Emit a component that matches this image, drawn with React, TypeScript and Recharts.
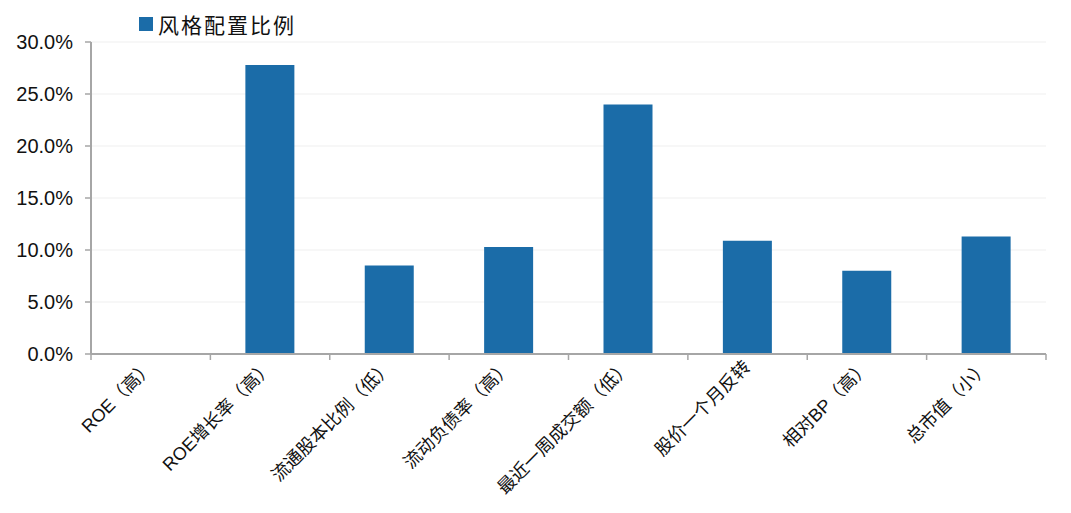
import React from 'react';
import { BarChart, Bar, XAxis, YAxis, CartesianGrid, Legend } from 'recharts';

const categories = [
  'ROE（高）',
  'ROE增长率（高）',
  '流通股本比例（低）',
  '流动负债率（高）',
  '最近一周成交额（低）',
  '股价一个月反转',
  '相对BP（高）',
  '总市值（小）',
];
const weights = [0, 0.278, 0.085, 0.103, 0.24, 0.109, 0.08, 0.113];
const yTicks = [0, 0.05, 0.1, 0.15, 0.2, 0.25, 0.3];
const seriesName = '风格配置比例';

const data = categories.map((name, i) => ({ name, [seriesName]: weights[i] }));

const W = 1071;
const H = 513;
const LEFT = 91;
const RIGHT = 25;
const BAND = (W - LEFT - RIGHT) / categories.length;
const AXIS_COLOR = '#a6a6a6';
const BAR_COLOR = '#1b6ca8';
const FONT = '"Liberation Sans", Arial, "Noto Sans CJK SC", sans-serif';

function CategoryTick(props: any) {
  const { x, y, payload, index } = props;
  const left = x - BAND / 2;
  const isLast = index === categories.length - 1;
  return (
    <g>
      <line x1={left} y1={y} x2={left} y2={y + 6} stroke={AXIS_COLOR} strokeWidth={1.5} />
      {isLast && (
        <line x1={x + BAND / 2} y1={y} x2={x + BAND / 2} y2={y + 6} stroke={AXIS_COLOR} strokeWidth={1.5} />
      )}
      <text
        x={0}
        y={0}
        transform={`translate(${x + 4},${y + 14}) rotate(-45)`}
        textAnchor="end"
        fontSize={18}
        fill="#111"
        fontFamily={FONT}
      >
        {payload.value}
      </text>
    </g>
  );
}

function LegendBox() {
  return (
    <div style={{ display: 'flex', alignItems: 'center', fontFamily: FONT }}>
      <span style={{ width: 14, height: 14, background: BAR_COLOR, display: 'inline-block', marginRight: 5 }} />
      <span style={{ fontSize: 21, letterSpacing: 2, color: '#111', fontFamily: '"Noto Sans CJK SC", sans-serif', lineHeight: '26px' }}>
        {seriesName}
      </span>
    </div>
  );
}

export default function App() {
  return (
    <div style={{ position: 'absolute', left: 0, top: 0, background: '#fff' }}>
      <BarChart width={W} height={H} data={data} margin={{ top: 42, right: RIGHT, left: 0, bottom: 129 }}>
        <CartesianGrid vertical={false} stroke="#efefef" />
        <Legend
          layout="horizontal"
          verticalAlign="middle"
          align="center"
          content={() => <LegendBox />}
          wrapperStyle={{ top: 11, left: 139, width: 'auto' }}
        />
        <XAxis
          dataKey="name"
          height={30}
          interval={0}
          tickLine={false}
          tickSize={0}
          tickMargin={0}
          axisLine={{ stroke: AXIS_COLOR, strokeWidth: 2 }}
          tick={<CategoryTick />}
        />
        <YAxis
          width={LEFT}
          domain={[0, 0.3]}
          ticks={yTicks}
          interval={0}
          tickFormatter={(v: number) => `${(v * 100).toFixed(1)}%`}
          axisLine={{ stroke: AXIS_COLOR, strokeWidth: 2 }}
          tickLine={{ stroke: AXIS_COLOR, strokeWidth: 1.5 }}
          tickSize={6}
          tickMargin={12}
          tick={{ fontSize: 20, fill: '#111', fontFamily: FONT }}
        />
        <Bar dataKey={seriesName} fill={BAR_COLOR} barSize={49} isAnimationActive={false} />
      </BarChart>
    </div>
  );
}
